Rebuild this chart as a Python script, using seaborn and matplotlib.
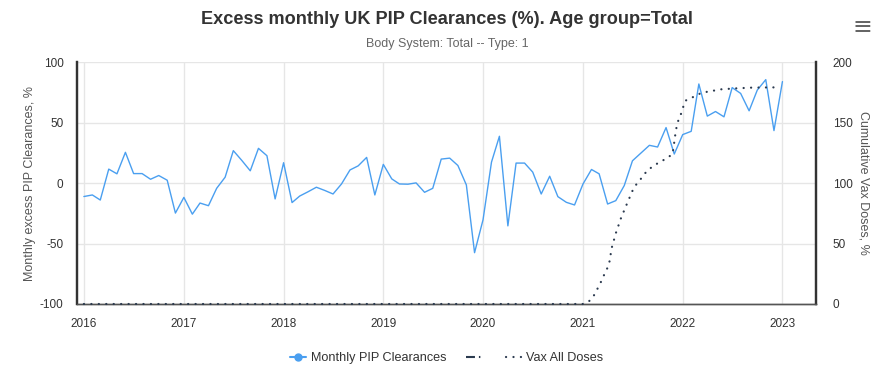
import matplotlib
matplotlib.use("Agg")
import matplotlib.pyplot as plt
import matplotlib.dates as mdates
from matplotlib.lines import Line2D
import numpy as np
import pandas as pd
import seaborn as sns

# ---------------- data ----------------
pip_start = "2016-01-01"
pip_values = [
    -11, -9.7, -13.9, 11.7, 7.8, 25.6, 8, 8, 3.3, 6.4, 2.5, -24.7,          # 2016
    -11.7, -25.6, -16.4, -18.6, -4.2, 5, 27, 18.9, 10.3, 28.9, 22.8, -13,   # 2017
    17, -16, -10.6, -7, -3.3, -6, -8.9, -0.6, 11, 14.4, 21.4, -9.7,         # 2018
    15.6, 3.6, -0.6, -0.8, 0.3, -7.5, -4.2, 20, 20.8, 14.7, -1.4, -57.5,    # 2019
    -30.3, 17.5, 38.9, -35.3, 16.7, 16.7, 9.2, -8.9, 5.8, -11.1, -15.8, -18,  # 2020
    -0.6, 11.4, 7.8, -17.2, -14.4, -1.9, 18.6, 25, 31.4, 30, 46.1, 24.2,    # 2021
    40.3, 43, 82.2, 55.6, 59.4, 55, 79.2, 74.4, 60, 77.2, 85.8, 43.6,       # 2022
    84.2,                                                                   # 2023
]

vax_dates = [
    "2016-01-01", "2021-01-01", "2021-01-20", "2021-02-05", "2021-02-20",
    "2021-03-05", "2021-03-15", "2021-03-28", "2021-04-07", "2021-04-16",
    "2021-05-02", "2021-05-20", "2021-06-11", "2021-07-04", "2021-07-19",
    "2021-08-07", "2021-08-23", "2021-09-15", "2021-10-06", "2021-11-01",
    "2021-11-25", "2021-12-07", "2021-12-14", "2021-12-25", "2022-01-10",
    "2022-02-03", "2022-03-01", "2022-03-28", "2022-05-22", "2022-07-17",
    "2022-09-12", "2022-12-07",
]
vax_values = [
    0, 0, 1.7, 5, 11.4,
    16.9, 22.2, 28, 33.9, 46.4,
    59.2, 71.1, 83.1, 95.3, 100.3,
    105.3, 110.3, 114.2, 117.2, 120.3,
    124.2, 143.9, 150.8, 157, 168.3,
    170.8, 173.9, 175.6, 177.8, 178.6,
    179.2, 179.4,
]

left_ticks = [-100, -50, 0, 50, 100]
right_ticks = [0, 50, 100, 150, 200]
year_ticks = [2016, 2017, 2018, 2019, 2020, 2021, 2022, 2023]

title = "Excess monthly UK PIP Clearances (%). Age group=Total"
subtitle = "Body System: Total -- Type: 1"
left_label = "Monthly excess PIP Clearances, %"
right_label = "Cumulative Vax Doses, %"
legend_labels = ["Monthly PIP Clearances", "", "Vax All Doses"]

# ---------------- frames ----------------
pip_df = pd.DataFrame({
    "date": pd.date_range(pip_start, periods=len(pip_values), freq="MS"),
    "pip": pip_values,
})
vax_df = pd.DataFrame({"date": pd.to_datetime(vax_dates), "vax": vax_values})

# ---------------- style ----------------
sns.set_style("white")
plt.rcParams["font.family"] = ["Liberation Sans", "DejaVu Sans"]
plt.rcParams["axes.unicode_minus"] = False

BLUE = "#4a9ff0"
NAVY = "#2b3a4f"
GRID = "#e6e6e6"
TXT = "#333333"
DOTS = (0, (0.05, 3.3))

fig = plt.figure(figsize=(8.94, 3.76), dpi=100)
ax = fig.add_axes([0.0865, 0.1915, 0.9128 - 0.0865, 0.8338 - 0.1915])
ax2 = ax.twinx()

sns.lineplot(data=pip_df, x="date", y="pip", ax=ax, color=BLUE, linewidth=1.0, zorder=3)
sns.lineplot(data=vax_df, x="date", y="vax", ax=ax2, color=NAVY, linewidth=1.6,
             linestyle=DOTS, zorder=4)
for ln in ax2.get_lines():
    ln.set_dash_capstyle("round")
    ln.set_clip_on(False)

ax.set_xlim(pd.Timestamp("2015-12-08"), pd.Timestamp("2023-05-04"))
ax.set_ylim(-100, 100)
ax2.set_ylim(0, 200)
ax.set_yticks(left_ticks)
ax2.set_yticks(right_ticks)
ax.set_xticks([pd.Timestamp(f"{y}-01-01") for y in year_ticks])
ax.xaxis.set_major_formatter(mdates.DateFormatter("%Y"))

ax.grid(True, color=GRID, linewidth=1.0)
ax.set_axisbelow(True)
ax2.grid(False)

for a in (ax, ax2):
    a.set_xlabel("")
    a.set_ylabel("")
    a.spines["top"].set_visible(False)
    a.spines["left"].set_color("#333333")
    a.spines["left"].set_linewidth(1.6)
    a.spines["right"].set_color("#333333")
    a.spines["right"].set_linewidth(1.6)
    a.spines["bottom"].set_color("#555555")
    a.spines["bottom"].set_linewidth(1.0)

ax.tick_params(axis="y", length=0, labelsize=8.5, labelcolor=TXT, pad=10)
ax2.tick_params(axis="y", length=0, labelsize=8.5, labelcolor=TXT, pad=12)
ax.tick_params(axis="x", length=6, width=1.2, color="#555555", labelsize=8.5,
               labelcolor=TXT, pad=4)

ax.set_ylabel(left_label, fontsize=9, color="#555555", labelpad=2.5)
ax2.set_ylabel(right_label, fontsize=9, color="#555555", rotation=270, labelpad=12)

fig.text(0.5, 1 - 20 / 376, title, ha="center", va="center", fontsize=13.1,
         fontweight="bold", color=TXT)
fig.text(0.5, 1 - 44 / 376, subtitle, ha="center", va="center", fontsize=9,
         color="#666666")
fig.text(862 / 894, 1 - 27 / 376, "≡", ha="center", va="center", fontsize=17,
         color="#666666", family="DejaVu Sans")

handles = [
    Line2D([], [], color=BLUE, linewidth=1.5, marker="o", markersize=5),
    Line2D([], [], color=NAVY, linewidth=1.5, linestyle=(0, (4.3, 1.9, 0.7, 3))),
    Line2D([], [], color=NAVY, linewidth=1.6, linestyle=DOTS, dash_capstyle="round"),
]
fig.legend(handles, legend_labels, loc="center", bbox_to_anchor=(0.5, 1 - 358 / 376),
           ncol=3, frameon=False, fontsize=9.1, handlelength=1.2, columnspacing=1.58,
           handletextpad=0.4, labelcolor=TXT)

fig.savefig("out.png", dpi=100)
